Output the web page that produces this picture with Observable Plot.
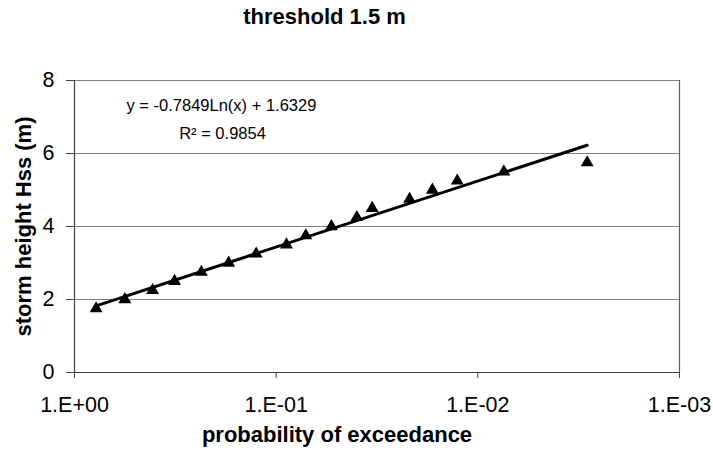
<!DOCTYPE html>
<html>
<head>
<meta charset="utf-8">
<script src="https://cdn.jsdelivr.net/npm/d3@7"></script>
<script src="https://cdn.jsdelivr.net/npm/@observablehq/plot@0.6"></script>
<style>
  body { margin: 0; background: #fff; font-family: "Liberation Sans", Arial, sans-serif; }
  #wrap { width: 713px; height: 452px; position: relative; background: #fff; }
  #title { position: absolute; left: 0; top: 6px; width: 649px; height: 22px; line-height: 22px;
           text-align: center; font-weight: bold; font-size: 22px; color: #000; }
  #chart { position: absolute; left: 0; top: 30px; }
</style>
</head>
<body>
<div id="wrap"><div id="title"></div><div id="chart"></div></div>
<script>
const title = "threshold 1.5 m";
const xLabel = "probability of exceedance";
const yLabel = "storm height Hss (m)";
const equation = "y = -0.7849Ln(x) + 1.6329";
const rSquared = "R² = 0.9854";

// observed points (probability of exceedance, storm height)
const probability = [0.781, 0.563, 0.410, 0.319, 0.235, 0.172, 0.1256, 0.0889, 0.0713,
                     0.0532, 0.0398, 0.0334, 0.0218, 0.0168, 0.01265, 0.00743, 0.00287];
const stormHeight = [1.75, 2.0, 2.25, 2.5, 2.75, 3.0, 3.25, 3.5, 3.75,
                     4.0, 4.25, 4.5, 4.75, 5.0, 5.25, 5.5, 5.75];

// trend line end points
const trendProbability = [0.781, 0.00287];
const trendHeight = [1.827, 6.225];

const xTicks = [1, 0.1, 0.01, 0.001];
const xTickLabels = ["1.E+00", "1.E-01", "1.E-02", "1.E-03"];
const yTicks = [0, 2, 4, 6, 8];
const yGrid = [2, 4, 6];

const points = probability.map((p, i) => ({p, h: stormHeight[i]}));
const trend = trendProbability.map((p, i) => ({p, h: trendHeight[i]}));

document.getElementById("title").textContent = title;

const chart = Plot.plot({
  width: 713,
  height: 422,
  marginTop: 50,
  marginBottom: 80,
  marginLeft: 74,
  marginRight: 34,
  style: {fontFamily: "'Liberation Sans', Arial, sans-serif", fontSize: "21px", color: "#000", background: "#fff"},
  x: {type: "log", domain: [1, 0.001]},
  y: {domain: [0, 8]},
  marks: [
    Plot.ruleY(yGrid, {stroke: "#808080", strokeWidth: 1}),
    Plot.ruleY([8], {stroke: "#808080", strokeWidth: 1}),
    Plot.ruleX([0.001], {stroke: "#606060", strokeWidth: 1.2}),
    Plot.ruleX([1], {stroke: "#404040", strokeWidth: 1.2}),
    Plot.ruleY([0], {stroke: "#404040", strokeWidth: 1.2}),
    Plot.axisY({ticks: yTicks, tickSize: 8, tickPadding: 12, fontSize: 21.5, label: null, stroke: "#404040"}),
    Plot.axisX({ticks: xTicks, tickFormat: d => xTickLabels[xTicks.indexOf(d)], tickSize: 6, tickPadding: 18, fontSize: 21.5, label: null, stroke: "#404040"}),
    Plot.line(trend, {x: "p", y: "h", stroke: "#000", strokeWidth: 3}),
    Plot.dot(points, {x: "p", y: "h", symbol: "triangle", r: 4.8, fill: "#000", stroke: "none"}),
    Plot.text([equation], {frameAnchor: "top-left", textAnchor: "start", dx: 52, dy: 19, fontSize: 16.5}),
    Plot.text([rSquared], {frameAnchor: "top-left", textAnchor: "middle", dx: 148, dy: 47, fontSize: 16.5}),
    Plot.text([xLabel], {frameAnchor: "bottom", textAnchor: "middle", dx: -40, dy: 69, fontSize: 22, fontWeight: "bold"}),
    Plot.text([yLabel], {frameAnchor: "left", textAnchor: "middle", rotate: -90, dx: -51, fontSize: 22, fontWeight: "bold"})
  ]
});
document.getElementById("chart").appendChild(chart);
</script>
</body>
</html>
